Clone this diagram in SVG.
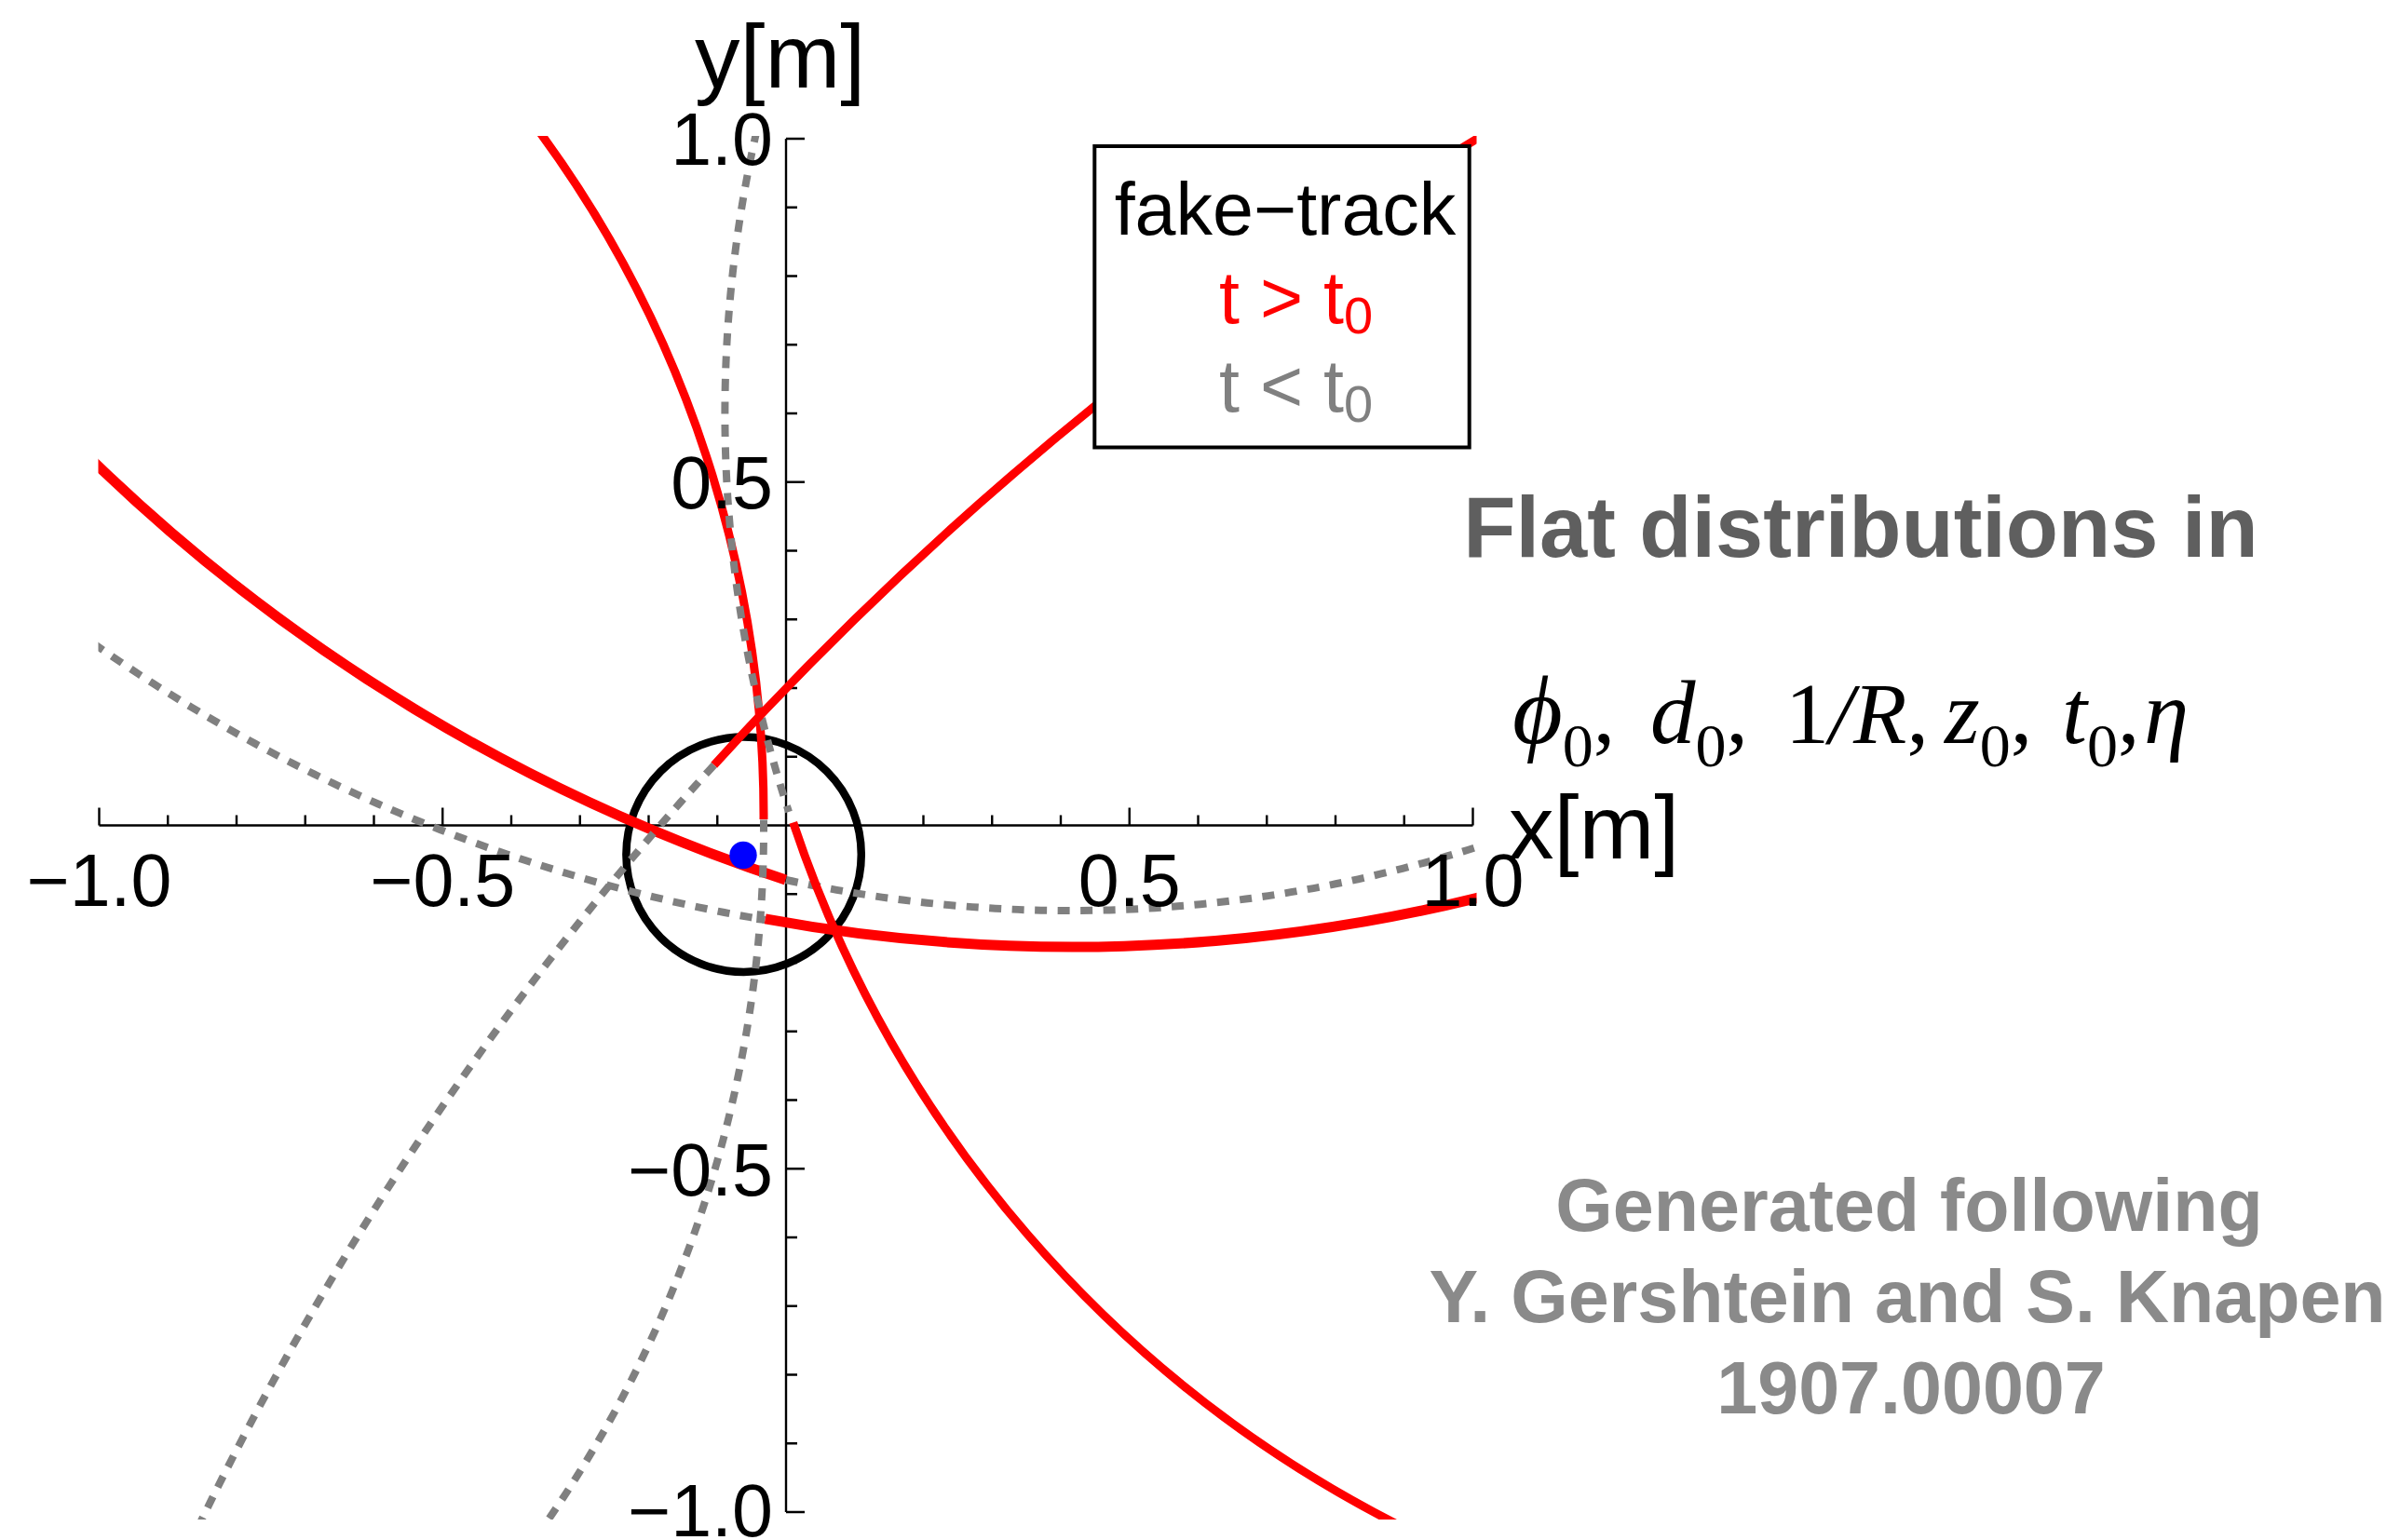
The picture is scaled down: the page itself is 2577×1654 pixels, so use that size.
<svg xmlns="http://www.w3.org/2000/svg" width="2577" height="1654" viewBox="0 0 2577 1654">
<style>
.sans{font-family:"Liberation Sans",Arial,sans-serif}
.serif{font-family:"Liberation Serif","Times New Roman","DejaVu Serif",serif}
.tick{font-size:79px;fill:#000}
.axis{fill:none;stroke:#000;stroke-width:2.4}
.red{fill:none;stroke:#ff0000;stroke-linecap:butt}
.thick{stroke-width:11}
.thin{stroke-width:9}
.gray{fill:none;stroke:#808080;stroke-width:8;stroke-dasharray:13 11.5}
.it{font-style:italic}
.sub{font-size:66px;font-style:normal}
</style>
<defs>
<clipPath id="plotclip"><rect x="105.5" y="146" width="1480" height="1486"/></clipPath>
</defs>
<rect width="2577" height="1654" fill="#fff"/>

<g id="axes">
<path class="axis" d="M106.5,886.5H1581.5M844,149V1624"/>
<path class="axis" d="M106.5,886.5v-19M180.25,886.5v-11M254,886.5v-11M327.75,886.5v-11M401.5,886.5v-11M475.25,886.5v-19M549,886.5v-11M622.75,886.5v-11M696.5,886.5v-11M770.25,886.5v-11M917.75,886.5v-11M991.5,886.5v-11M1065.25,886.5v-11M1139,886.5v-11M1212.75,886.5v-19M1286.5,886.5v-11M1360.25,886.5v-11M1434,886.5v-11M1507.75,886.5v-11M1581.5,886.5v-19"/>
<path class="axis" d="M844,149h20M844,222.75h12M844,296.5h12M844,370.25h12M844,444h12M844,517.75h20M844,591.5h12M844,665.25h12M844,739h12M844,812.75h12M844,960.25h12M844,1034h12M844,1107.75h12M844,1181.5h12M844,1255.25h20M844,1329h12M844,1402.75h12M844,1476.5h12M844,1550.25h12M844,1624h20"/>
</g>

<g id="detector-circle">
<circle cx="798.6" cy="917.7" r="126.2" fill="none" stroke="#000" stroke-width="8.5"/>
</g>

<g id="connectors" clip-path="url(#plotclip)">
<path id="track1-red" class="red thick" d="M100,495.3A1942.5,1942.5 0 0 0 843.5,945"/>
<path id="track1-gray" class="gray" d="M844,945A1429.5,1429.5 0 0 0 1590,908.4"/>
<path id="track2-gray" class="gray" d="M100,690.8A1770,1770 0 0 0 821.5,988"/>
<path id="track2-red" class="red thick" d="M821.7,986.9A1824,1824 0 0 0 1590,963.5"/>
<path id="track3-red" class="red thin" d="M578.1,140A1240.2,1240.2 0 0 1 820,880"/>
<path id="track3-gray" class="gray" d="M820,880.5A1309.2,1309.2 0 0 1 583.3,1640"/>
<path id="track4-gray" class="gray" d="M812.6,140A1369.1,1369.1 0 0 0 847,872"/>
<path id="track4-red" class="red thin" d="M851.7,883.3A1312.1,1312.1 0 0 0 1505.8,1640"/>
<path id="track5-red" class="red thin" d="M1590,146.6A3668.7,3668.7 0 0 0 766.7,821.7"/>
<path id="track5-gray" class="gray" d="M766.7,821.7A3392.3,3392.3 0 0 0 212.8,1640"/>
</g>

<g id="vertex">
<circle cx="798" cy="918.5" r="14.7" fill="#0000ff"/>
</g>

<g id="tick-labels" class="sans tick">
<text x="106.5" y="973" text-anchor="middle">−1.0</text>
<text x="475.25" y="973" text-anchor="middle">−0.5</text>
<text x="1212.75" y="973" text-anchor="middle">0.5</text>
<text x="1581.5" y="973" text-anchor="middle">1.0</text>
<text x="830" y="177" text-anchor="end">1.0</text>
<text x="830" y="545.5" text-anchor="end">0.5</text>
<text x="830" y="1283.5" text-anchor="end">−0.5</text>
<text x="830" y="1650" text-anchor="end">−1.0</text>
</g>

<g id="axis-labels" class="sans" font-size="97" fill="#000">
<text x="746" y="94">y[m]</text>
<text x="1620" y="922">x[m]</text>
</g>

<g id="legend">
<rect x="1175.3" y="157" width="402.4" height="323.5" fill="#fff" stroke="#000" stroke-width="4"/>
<text class="sans" x="1380" y="251.7" font-size="79" text-anchor="middle" fill="#000">fake−track</text>
<text class="sans" x="1309" y="346.7" font-size="79" fill="#ff0000">t &gt; t<tspan font-size="56" dy="11">0</tspan></text>
<text class="sans" x="1309" y="441.7" font-size="79" fill="#808080">t &lt; t<tspan font-size="56" dy="11">0</tspan></text>
</g>

<g id="note-flat">
<text class="sans" x="1998" y="598" font-size="92" font-weight="bold" text-anchor="middle" fill="#5f5f5f">Flat distributions in</text>
<g class="serif" fill="#000" font-size="94">
<text x="1624" y="798"><tspan class="it" font-size="104">ϕ</tspan><tspan class="sub" dy="25">0</tspan><tspan dy="-25">,</tspan></text>
<text x="1772" y="798"><tspan class="it" font-size="97">d</tspan><tspan class="sub" dy="25">0</tspan><tspan dy="-25">,</tspan></text>
<text x="1917" y="798">1<tspan class="it">/R</tspan>,</text>
<text x="2088" y="798"><tspan class="it" font-size="97">z</tspan><tspan class="sub" dy="25">0</tspan><tspan dy="-25">,</tspan></text>
<text x="2214" y="798"><tspan class="it" font-size="97">t</tspan><tspan class="sub" dy="25">0</tspan><tspan dy="-25">,</tspan></text>
<text x="2302" y="798" class="it" font-size="97">η</text>
</g>
</g>

<g id="note-credit" class="sans" font-size="79" font-weight="bold" fill="#8a8a8a" text-anchor="middle">
<text x="2050" y="1321.7">Generated following</text>
<text x="2048" y="1420">Y. Gershtein and S. Knapen</text>
<text x="2052" y="1518">1907.00007</text>
</g>
</svg>
